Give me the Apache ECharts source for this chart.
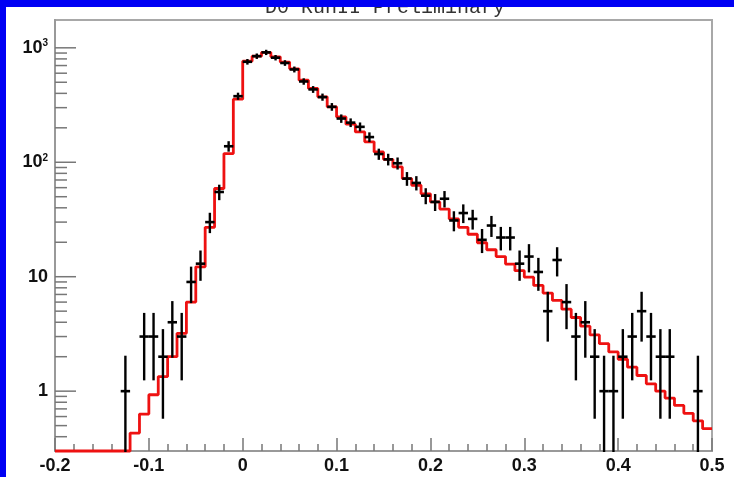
<!DOCTYPE html>
<html><head><meta charset="utf-8">
<script src="https://cdn.jsdelivr.net/npm/echarts@6/dist/echarts.min.js"></script>
<style>html,body{margin:0;padding:0;background:#fff}#c{width:734px;height:477px}</style>
</head><body><div id="c"></div>
<script>
// ---- data ----
const binEdges = [-0.20,-0.19,-0.18,-0.17,-0.16,-0.15,-0.14,-0.13,-0.12,-0.11,
  -0.10,-0.09,-0.08,-0.07,-0.06,-0.05,-0.04,-0.03,-0.02,-0.01,
  0.00,0.01,0.02,0.03,0.04,0.05,0.06,0.07,0.08,0.09,
  0.10,0.11,0.12,0.13,0.14,0.15,0.16,0.17,0.18,0.19,
  0.20,0.21,0.22,0.23,0.24,0.25,0.26,0.27,0.28,0.29,
  0.30,0.31,0.32,0.33,0.34,0.35,0.36,0.37,0.38,0.39,
  0.40,0.41,0.42,0.43,0.44,0.45,0.46,0.47,0.48,0.49,0.50];
const mcValues = [0,0,0,0,0,0,0,0,0.43,0.63,
  0.93,1.34,2.0,3.2,6.0,12.2,27,59,119,356,
  765,845,911,835,750,655,522,442,373,305,
  249,215,184,151,123,106,91,72,63,53,
  45,39,32,27,23.5,19.8,17.2,15.0,12.9,11.3,
  9.9,8.4,7.2,6.2,5.2,4.4,3.7,3.1,2.6,2.2,
  1.9,1.62,1.37,1.16,1.0,0.87,0.75,0.64,0.55,0.47];
const dataCounts = [0,0,0,0,0,0,0,1,0,3,
  3,2,4,3,9,13,30,55,138,378,
  755,845,912,820,737,647,508,433,371,305,
  241,222,204,166,118,106,98,72,66,51,
  45,48,31,36,32,21,28,22,22,13,
  15,11,5,14,6,3,4,2,1,1,
  2,3,5,3,2,2,0,0,1,0];
const yMajorTicks = [1, 10, 100, 1000];
const yMinorMultipliers = [2,3,4,5,6,7,8,9];
const yLabelText = {1:'1', 10:'10', 100:'10{s|2}', 1000:'10{s|3}'};
const titleText = 'D0 RunII Preliminary';
const X_MIN = -0.2, X_MAX = 0.5, Y_MIN = 0.3, Y_MAX = 1750;

// ---- derived ----
const clampY = v => (v > Y_MIN ? v : Y_MIN);
const mcStep = binEdges.map((e, i) => [e, clampY(mcValues[Math.min(i, mcValues.length - 1)])]);
const points = dataCounts.map((n, i) => [(binEdges[i] + binEdges[i+1]) / 2, n, binEdges[i], binEdges[i+1]]);
const yTicks = [];
[0.1, 1, 10, 100, 1000].forEach(d => {
  if (yMajorTicks.indexOf(d) >= 0) yTicks.push([X_MIN, d, 1]);
  yMinorMultipliers.forEach(m => { const v = m * d; if (v > Y_MIN && v < Y_MAX) yTicks.push([X_MIN, v, 0]); });
});

const chart = echarts.init(document.getElementById('c'));
const labelFont = '"Liberation Sans", Arial, sans-serif';
chart.setOption({
  animation: false,
  backgroundColor: '#ffffff',
  grid: { left: 55, top: 20, right: 22, bottom: 26, show: true, borderColor: '#a8a8a8', borderWidth: 2, backgroundColor: '#ffffff' },
  xAxis: {
    type: 'value', min: X_MIN, max: X_MAX, interval: 0.1,
    axisLine: { show: true, onZero: false, lineStyle: { color: '#999', width: 2 } },
    axisTick: { show: true, inside: true, length: 13, lineStyle: { color: '#777', width: 1.5 } },
    minorTick: { show: true, splitNumber: 5, length: 7, lineStyle: { color: '#777', width: 1.5 } },
    splitLine: { show: false },
    axisLabel: { margin: 6, fontSize: 18, fontWeight: 'bold', fontFamily: labelFont, color: '#111' }
  },
  yAxis: {
    type: 'log', logBase: 10, min: Y_MIN, max: Y_MAX,
    axisLine: { show: true, onZero: false, lineStyle: { color: '#999', width: 2 } },
    axisTick: { show: false },
    splitLine: { show: false },
    axisLabel: {
      showMinLabel: false, showMaxLabel: false, margin: 7,
      fontSize: 18, fontWeight: 'bold', fontFamily: labelFont, color: '#111',
      formatter: v => yLabelText[Math.round(v)] || '',
      rich: { s: { fontSize: 10, fontWeight: 'bold', fontFamily: labelFont, color: '#111', padding: [0, 0, 9, 0] } }
    }
  },
  series: [
    {
      type: 'custom', name: 'yticks', z: 3, silent: true, clip: false,
      data: yTicks,
      renderItem(params, api) {
        const p = api.coord([api.value(0), api.value(1)]);
        const len = api.value(2) ? 21 : 12;
        return { type: 'line', shape: { x1: p[0], y1: p[1], x2: p[0] + len, y2: p[1] },
          style: { stroke: '#777', lineWidth: 1.5 } };
      }
    },
    {
      type: 'line', name: 'MC', data: mcStep, step: 'end', showSymbol: false, clip: false, z: 4,
      lineStyle: { color: '#ee1111', width: 2.8 }
    },
    {
      type: 'custom', name: 'data', z: 5, clip: false,
      data: points,
      renderItem(params, api) {
        const n = api.value(1);
        if (!(n > 0)) return null;
        const x = api.value(0), e = Math.sqrt(n);
        const lo = Math.max(n - e, Y_MIN), hi = Math.min(n + e, Y_MAX);
        const pTop = api.coord([x, hi]), pBot = api.coord([x, lo]);
        const pL = api.coord([api.value(2), n]), pR = api.coord([api.value(3), n]);
        return { type: 'group', children: [
          { type: 'line', shape: { x1: pTop[0], y1: pTop[1] - 1, x2: pBot[0], y2: pBot[1] + 1 }, style: { stroke: '#000', lineWidth: 2.4 } },
          { type: 'line', shape: { x1: pL[0], y1: pL[1], x2: pR[0], y2: pR[1] }, style: { stroke: '#000', lineWidth: 2.6 } }
        ]};
      }
    }
  ],
  graphic: [
    { type: 'text', x: 385, y: 18, z: 10, style: { text: titleText, font: '20px "Liberation Mono", monospace', fill: '#333', align: 'center', verticalAlign: 'bottom' } },
    { type: 'rect', shape: { x: 0, y: 0, width: 734, height: 7 }, z: 20, style: { fill: '#0000f4' } },
    { type: 'rect', shape: { x: 0, y: 0, width: 6, height: 477 }, z: 20, style: { fill: '#0000f4' } }
  ]
});
</script></body></html>
